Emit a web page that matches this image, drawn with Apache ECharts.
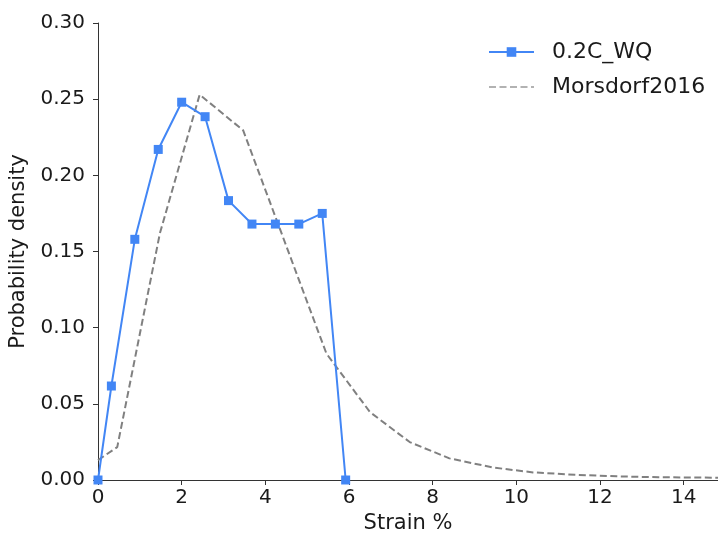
<!DOCTYPE html>
<html>
<head>
<meta charset="utf-8">
<script src="https://cdn.jsdelivr.net/npm/echarts@6/dist/echarts.min.js"></script>
<style>html,body{margin:0;padding:0;background:#fff;}#c{width:718px;height:535px;}</style>
</head>
<body>
<div id="c"></div>
<script>
const wqStrain = [0, 0.32, 0.88, 1.44, 2.0, 2.56, 3.12, 3.68, 4.24, 4.8, 5.36, 5.92];
const wqDensity = [0, 0.0617, 0.158, 0.217, 0.248, 0.2385, 0.1834, 0.168, 0.168, 0.168, 0.175, 0];
const morStrain = [0, 0.46, 1.48, 2.43, 3.47, 5.46, 6.5, 7.45, 8.4, 9.44, 10.4, 11.4, 12.4, 13.4, 14.82];
const morDensity = [0.013, 0.0216, 0.162, 0.253, 0.2295, 0.083, 0.0446, 0.0249, 0.0142, 0.0082, 0.005, 0.0034, 0.0024, 0.0018, 0.0015];
const seriesNames = ['0.2C_WQ', 'Morsdorf2016'];
const xTicks = [0, 2, 4, 6, 8, 10, 12, 14];
const yTicks = [0, 0.05, 0.10, 0.15, 0.20, 0.25, 0.30];

const font = 'DejaVu Sans';
const txt = '#1a1a1a';
const chart = echarts.init(document.getElementById('c'));
chart.setOption({
  animation: false,
  backgroundColor: '#fff',
  grid: {left: 98, top: 23, right: 0, bottom: 55, outerBoundsMode: 'none', containLabel: false},
  legend: {
    orient: 'vertical', left: 483, top: 36, itemGap: 13,
    itemWidth: 45, itemHeight: 12,
    textStyle: {fontFamily: font, fontSize: 22, color: txt, padding: [0, 0, 0, 13]},
    data: [
      {name: seriesNames[0]},
      {name: seriesNames[1], itemStyle: {opacity: 0}, lineStyle: {width: 1.5, color: '#999'}}
    ]
  },
  xAxis: {
    type: 'value', min: 0, max: 14.82, interval: 2,
    name: 'Strain %', nameLocation: 'middle', nameGap: 27,
    nameTextStyle: {fontFamily: font, fontSize: 21, color: txt},
    axisLine: {show: true, lineStyle: {color: '#333', width: 1}},
    axisTick: {show: true, length: 5, lineStyle: {color: '#333'}},
    axisLabel: {fontFamily: font, fontSize: 20, color: txt, margin: 8, showMaxLabel: false,
      formatter: v => xTicks.includes(v) ? String(v) : ''},
    splitLine: {show: false}
  },
  yAxis: {
    type: 'value', min: 0, max: 0.30, interval: 0.05,
    name: 'Probability density', nameLocation: 'middle', nameGap: 69,
    nameTextStyle: {fontFamily: font, fontSize: 21, color: txt},
    axisLine: {show: true, lineStyle: {color: '#333', width: 1}},
    axisTick: {show: true, length: 5, lineStyle: {color: '#333'}},
    axisLabel: {fontFamily: font, fontSize: 20, color: txt, margin: 13,
      formatter: v => {const t = yTicks.find(y => Math.abs(y - v) < 1e-9); return t === undefined ? '' : t.toFixed(2);}},
    splitLine: {show: false}
  },
  series: [
    {
      name: seriesNames[0], type: 'line',
      data: wqStrain.map((x, i) => [x, wqDensity[i]]),
      symbol: 'rect', symbolSize: 9, showAllSymbol: true,
      lineStyle: {color: '#4286f5', width: 2},
      itemStyle: {color: '#4286f5'},
      z: 3
    },
    {
      name: seriesNames[1], type: 'line',
      data: morStrain.map((x, i) => [x, morDensity[i]]),
      symbol: 'none',
      lineStyle: {color: '#808080', width: 2, type: [7, 3.5]},
      itemStyle: {color: '#808080'},
      z: 2
    }
  ]
});
</script>
</body>
</html>
